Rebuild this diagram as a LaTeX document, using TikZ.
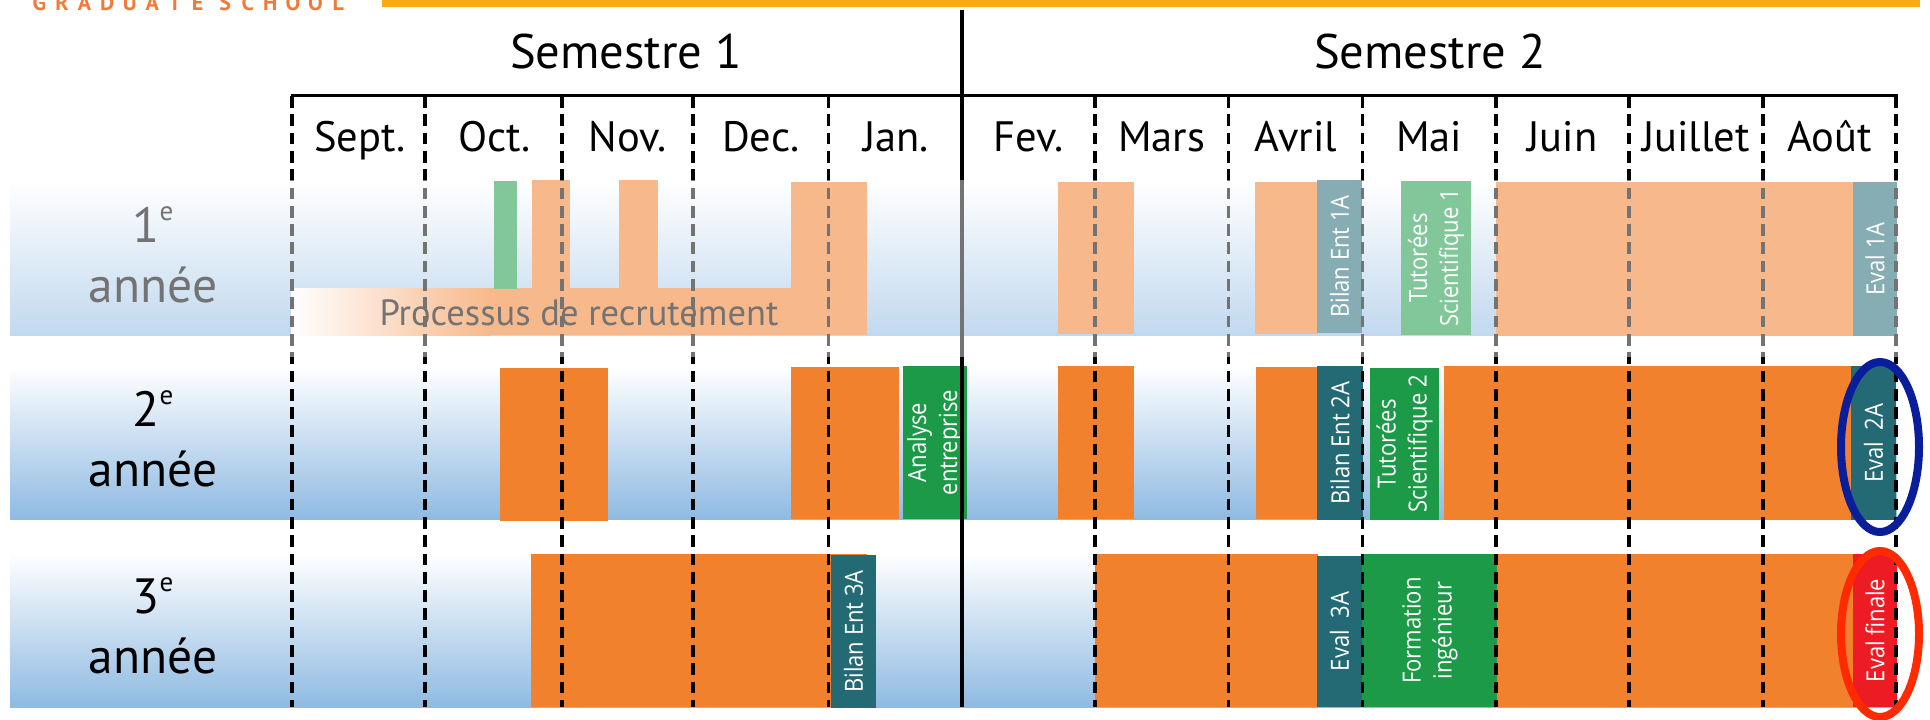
\documentclass[tikz,border=0pt]{standalone}
\usepackage{fontspec}
\setmainfont{PT Sans}
\newfontfamily\boxfont[FakeStretch=0.88]{Open Sans}
\definecolor{orng}{HTML}{F2812E}
\definecolor{grn}{HTML}{1D9A48}
\definecolor{tealbox}{HTML}{236A75}
\definecolor{redbox}{HTML}{ED1C24}
\definecolor{bandblue}{HTML}{8FBAE2}
\definecolor{lineorange}{HTML}{FBA919}
\definecolor{logoorange}{HTML}{F07A3A}
\definecolor{ellblue}{HTML}{0A1E9C}
\definecolor{ellred}{HTML}{FF2A00}
\newcommand\gsl[1]{\makebox[22.6pt]{#1}}
\newcommand\supe[1]{\raisebox{22pt}{\fontsize{27}{27}\selectfont #1}}
\begin{document}
\begin{tikzpicture}[x=1pt,y=-1pt,
  hdr/.style={font=\fontsize{48.5}{56}\selectfont, anchor=base, inner sep=0pt},
  mon/.style={font=\fontsize{42.5}{50}\selectfont, anchor=base, inner sep=0pt},
  rowlbl/.style={font=\fontsize{49.5}{56}\selectfont, anchor=base, inner sep=0pt},
  boxtxt/.style={font=\boxfont\fontsize{25}{31}\selectfont, text=white, rotate=90, align=center, inner sep=0pt},
  dashln/.style={line width=3.3pt, dash pattern=on 11.7pt off 6.6pt},
  band/.style={top color=white, bottom color=bandblue},
]
\useasboundingbox (0,0) rectangle (1930,720);
% row bands
\shade[band] (10,182) rectangle (1897,335);
\shade[band] (10,366) rectangle (1897,519);
\shade[band] (10,553) rectangle (1897,707);
% ---- row 1 blocks
\shade[left color=white, right color=orng] (291,288) rectangle (490,335);
\fill[orng] (489,288) rectangle (867,335);
\fill[grn] (494,181) rectangle (517,288.5);
\fill[orng] (532,180) rectangle (570,289);
\fill[orng] (619,180) rectangle (658,289);
\fill[orng] (791,182) rectangle (867,335);
\fill[orng] (1058,182) rectangle (1134,334);
\fill[orng] (1255,182) rectangle (1318,334);
\fill[tealbox] (1317,180) rectangle (1362,333);
\fill[grn] (1401,181) rectangle (1471,335);
\fill[orng] (1496,182) rectangle (1853.5,336);
\fill[tealbox] (1853,182) rectangle (1897,336);
% ---- row 2 blocks
\fill[orng] (500,368) rectangle (608,521);
\fill[orng] (791,367) rectangle (899,519);
\fill[grn] (903,366) rectangle (967,519);
\fill[orng] (1058,366) rectangle (1134,519);
\fill[orng] (1256,367) rectangle (1318,519);
\fill[tealbox] (1317,366) rectangle (1363,520);
\fill[grn] (1370,368) rectangle (1439,520);
\fill[orng] (1444,366) rectangle (1851.5,520);
\fill[tealbox] (1851,366) rectangle (1896,520);
% ---- row 3 blocks
\fill[orng] (531,554) rectangle (867,707);
\fill[tealbox] (831,555) rectangle (876,708);
\fill[orng] (1095,554) rectangle (1318,707);
\fill[tealbox] (1317,556) rectangle (1362.5,707);
\fill[grn] (1362,554) rectangle (1498,707);
\fill[orng] (1497,554) rectangle (1853.5,707);
\fill[redbox] (1853,554) rectangle (1897,707);
% box texts
\node[boxtxt] (b1a) at (1339.5,256.5) {Bilan Ent 1A};
\node[boxtxt] (t1) at (1436,258) {Tutorées\\Scientifique 1};
\node[boxtxt] (e1a) at (1875,259) {Eval 1A};
\node[boxtxt] (ae) at (935,442.5) {Analyse\\entreprise};
\node[boxtxt] (b2a) at (1340,443) {Bilan Ent 2A};
\node[boxtxt] (t2) at (1404.5,444) {Tutorées\\Scientifique 2};
\node[boxtxt] (e2a) at (1873.5,443) {Eval\ \ 2A};
\node[boxtxt] (b3a) at (853.5,631.5) {Bilan Ent 3A};
\node[boxtxt] (e3a) at (1339.5,631.5) {Eval\ \ 3A};
\node[boxtxt] (fi) at (1430,630.5) {Formation\\ingénieur};
\node[boxtxt] (ef) at (1875,630.5) {Eval finale};
\node[anchor=base, inner sep=0pt, font=\fontsize{36.5}{42}\selectfont] (proc) at (579,325) {Processus de recrutement};
% grid lines
\foreach \x in {292,425,562,693,828.5,1095,1228.5,1362.5,1496,1629,1763,1896}
  \draw[dashln] (\x,96) -- (\x,707);
\draw[line width=3pt] (290.5,95) -- (1897.5,95);
\draw[line width=3.5pt] (962,10) -- (962,707);
% row labels
\node[rowlbl] (l1a) at (153,242) {1\supe{e}};
\node[rowlbl] (l1b) at (153,302) {année};
\node[rowlbl] (l2a) at (153,426) {2\supe{e}};
\node[rowlbl] (l2b) at (153,486) {année};
\node[rowlbl] (l3a) at (153,613) {3\supe{e}};
\node[rowlbl] (l3b) at (153,673) {année};
% fade of first year
\fill[white, opacity=0.45] (0,180) rectangle (1930,357);
% ellipses
\draw[ellblue, line width=8pt] (1880,447) ellipse [x radius=39, y radius=85];
\draw[ellred, line width=8pt] (1880,634) ellipse [x radius=39, y radius=83];
% headers
\node[hdr] (s1) at (626,68) {Semestre 1};
\node[hdr] (s2) at (1430,68) {Semestre 2};
\node[mon] (m1) at (360,151) {Sept.};
\node[mon] (m2) at (494.5,151) {Oct.};
\node[mon] (m3) at (627.5,151) {Nov.};
\node[mon] (m4) at (760.7,151) {Dec.};
\node[mon] (m5) at (896,151) {Jan.};
\node[mon] (m6) at (1028.5,151) {Fev.};
\node[mon] (m7) at (1161.7,151) {Mars};
\node[mon] (m8) at (1296,151) {Avril};
\node[mon] (m9) at (1429.2,151) {Mai};
\node[mon] (m10) at (1562.5,151) {Juin};
\node[mon] (m11) at (1696,151) {Juillet};
\node[mon] (m12) at (1829.5,151) {Août};
% top band
\fill[lineorange] (382,0) rectangle (1920,6.7);
\node[anchor=base west, inner sep=0pt, text=logoorange, font=\bfseries\fontsize{22}{22}\selectfont] (gs) at (27.9,10.7)
  {\gsl G\gsl R\gsl A\gsl D\gsl U\gsl A\gsl T\gsl E\hspace{5pt}\gsl S\gsl C\gsl H\gsl O\gsl O\gsl L};
\end{tikzpicture}
\end{document}
